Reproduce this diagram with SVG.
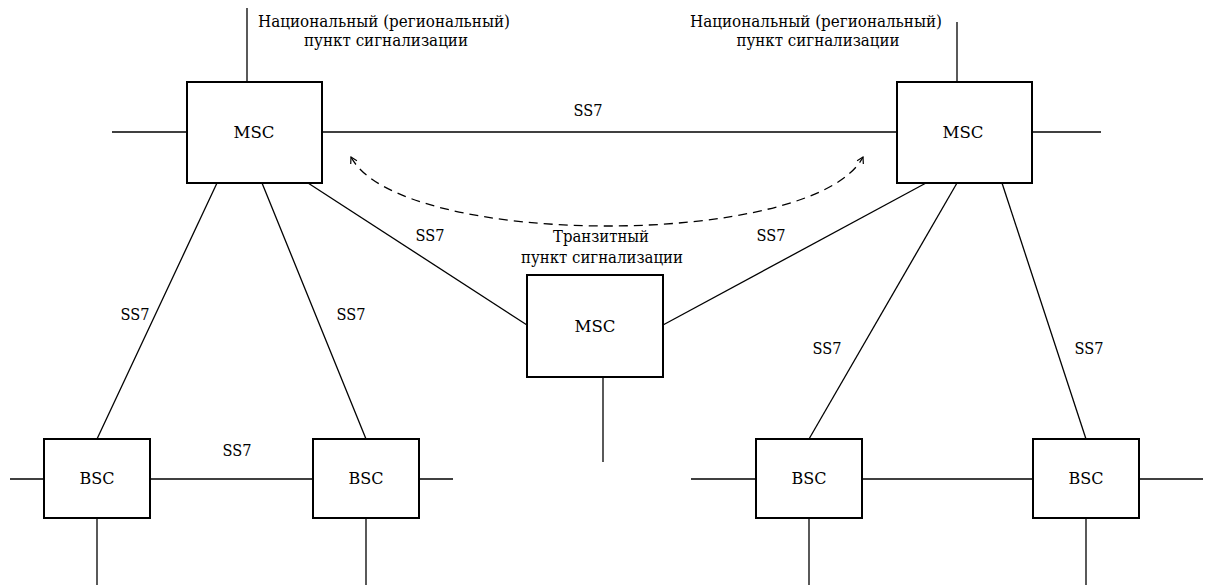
<svg xmlns="http://www.w3.org/2000/svg" width="1212" height="585" viewBox="0 0 1212 585">
<style>
.box{fill:#fff;stroke:#000;stroke-width:2}
.ln{stroke:#000;stroke-width:1.3;fill:none}
.dash{stroke:#000;stroke-width:1.3;fill:none;stroke-dasharray:9 6}
text{font-family:'DejaVu Serif',serif;font-size:17px;fill:#000;text-anchor:middle}
</style>
<defs>
<marker id="ah" viewBox="0 0 10 10" refX="9" refY="5" markerWidth="10" markerHeight="10" markerUnits="userSpaceOnUse" orient="auto-start-reverse">
<path d="M3,1.5 L9,5 L3,8.5" fill="none" stroke="#000" stroke-width="1.2"/>
</marker>
</defs>
<g id="connectors">
<line class="ln" x1="247" y1="8" x2="247" y2="82"/>
<line class="ln" x1="957" y1="22" x2="957" y2="82"/>
<line class="ln" x1="112" y1="132" x2="187" y2="132"/>
<line class="ln" x1="322" y1="132" x2="897" y2="132"/>
<line class="ln" x1="1032" y1="132" x2="1101" y2="132"/>
<line class="ln" x1="308" y1="183" x2="527" y2="325"/>
<line class="ln" x1="926" y1="183" x2="663" y2="325"/>
<line class="ln" x1="217" y1="183" x2="97" y2="439"/>
<line class="ln" x1="262" y1="183" x2="366" y2="439"/>
<line class="ln" x1="957" y1="183" x2="809" y2="439"/>
<line class="ln" x1="1002" y1="183" x2="1086" y2="439"/>
<line class="ln" x1="603" y1="377" x2="603" y2="462"/>
<line class="ln" x1="10" y1="479" x2="44" y2="479"/>
<line class="ln" x1="150" y1="479" x2="313" y2="479"/>
<line class="ln" x1="419" y1="479" x2="453" y2="479"/>
<line class="ln" x1="691" y1="479" x2="756" y2="479"/>
<line class="ln" x1="862" y1="479" x2="1033" y2="479"/>
<line class="ln" x1="1139" y1="479" x2="1203" y2="479"/>
<line class="ln" x1="97" y1="518" x2="97" y2="585"/>
<line class="ln" x1="366" y1="518" x2="366" y2="585"/>
<line class="ln" x1="809" y1="518" x2="809" y2="585"/>
<line class="ln" x1="1086" y1="518" x2="1086" y2="585"/>
<path class="dash" d="M351,157 C400,249 815,249 863,157" marker-start="url(#ah)" marker-end="url(#ah)"/>
<text x="588" y="116" textLength="29" lengthAdjust="spacingAndGlyphs">SS7</text>
<text x="430" y="241" textLength="29" lengthAdjust="spacingAndGlyphs">SS7</text>
<text x="771" y="241" textLength="29" lengthAdjust="spacingAndGlyphs">SS7</text>
<text x="135" y="320" textLength="29" lengthAdjust="spacingAndGlyphs">SS7</text>
<text x="351" y="320" textLength="29" lengthAdjust="spacingAndGlyphs">SS7</text>
<text x="827" y="354" textLength="29" lengthAdjust="spacingAndGlyphs">SS7</text>
<text x="1089" y="354" textLength="29" lengthAdjust="spacingAndGlyphs">SS7</text>
<text x="237" y="456" textLength="29" lengthAdjust="spacingAndGlyphs">SS7</text>
</g>
<g id="msc-left">
<rect class="box" x="187" y="82" width="135" height="101"/>
<text x="254" y="138" textLength="41" lengthAdjust="spacingAndGlyphs">MSC</text>
<text x="384" y="27" textLength="252" lengthAdjust="spacingAndGlyphs">Национальный (региональный)</text>
<text x="386" y="46" textLength="164" lengthAdjust="spacingAndGlyphs">пункт сигнализации</text>
</g>
<g id="msc-right">
<rect class="box" x="897" y="82" width="135" height="101"/>
<text x="963" y="138" textLength="41" lengthAdjust="spacingAndGlyphs">MSC</text>
<text x="816" y="27" textLength="252" lengthAdjust="spacingAndGlyphs">Национальный (региональный)</text>
<text x="818" y="46" textLength="163" lengthAdjust="spacingAndGlyphs">пункт сигнализации</text>
</g>
<g id="msc-transit">
<rect class="box" x="527" y="275" width="136" height="102"/>
<text x="595" y="332" textLength="41" lengthAdjust="spacingAndGlyphs">MSC</text>
<text x="601" y="242" textLength="96" lengthAdjust="spacingAndGlyphs">Транзитный</text>
<text x="602" y="263" textLength="162" lengthAdjust="spacingAndGlyphs">пункт сигнализации</text>
</g>
<g id="bsc1">
<rect class="box" x="44" y="439" width="106" height="79"/>
<text x="97" y="484" textLength="35" lengthAdjust="spacingAndGlyphs">BSC</text>
</g>
<g id="bsc2">
<rect class="box" x="313" y="439" width="106" height="79"/>
<text x="366" y="484" textLength="35" lengthAdjust="spacingAndGlyphs">BSC</text>
</g>
<g id="bsc3">
<rect class="box" x="756" y="439" width="106" height="79"/>
<text x="809" y="484" textLength="35" lengthAdjust="spacingAndGlyphs">BSC</text>
</g>
<g id="bsc4">
<rect class="box" x="1033" y="439" width="106" height="79"/>
<text x="1086" y="484" textLength="35" lengthAdjust="spacingAndGlyphs">BSC</text>
</g>
</svg>
